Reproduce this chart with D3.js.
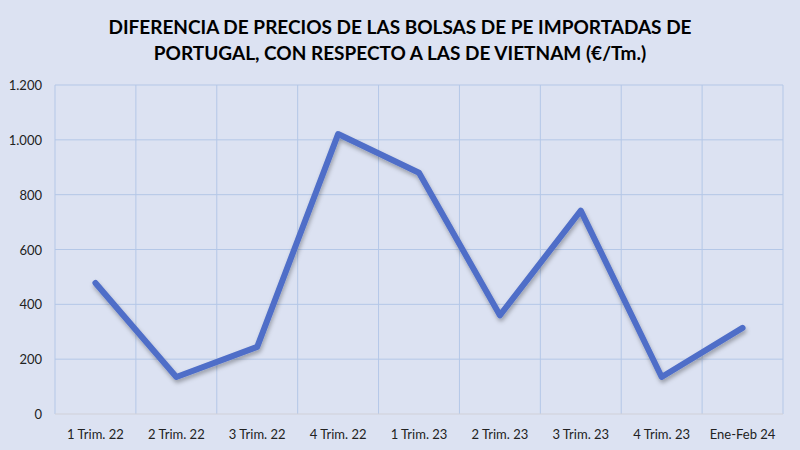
<!DOCTYPE html>
<html>

<head>
  <title>Diferencia de precios</title>
</head>

<body>

  <svg id="svg" width="800" height="450"></svg>

  <script src="https://d3js.org/d3.v7.min.js"></script>
  <script>
    const categories = ['1 Trim. 22', '2 Trim. 22', '3 Trim. 22', '4 Trim. 22', '1 Trim. 23',
      '2 Trim. 23', '3 Trim. 23', '4 Trim. 23', 'Ene-Feb 24']
    const values = [478, 135, 245, 1021, 880, 360, 742, 135, 314]
    const yTicks = [0, 200, 400, 600, 800, 1000, 1200]
    const titleLines = ['DIFERENCIA DE PRECIOS DE LAS BOLSAS DE PE IMPORTADAS DE',
      'PORTUGAL, CON RESPECTO A LAS DE VIETNAM (€/Tm.)']

    const svg = d3.select('#svg')
    const plotLeft = 55, plotRight = 783, plotTop = 85, plotBottom = 414

    svg.append('rect')
      .attr('width', 800).attr('height', 450)
      .attr('fill', '#dce2f2')

    // title
    svg.selectAll('text.title')
      .data(titleLines)
      .join('text')
      .attr('class', 'title')
      .attr('x', 400)
      .attr('y', (d, i) => 34 + i * 26)
      .attr('text-anchor', 'middle')
      .attr('font-family', 'Lato')
      .attr('font-weight', 'bold')
      .attr('font-size', 19)
      .attr('fill', '#000')
      .text(d => d)

    const xscale = d3.scaleBand()
      .domain(categories)
      .range([plotLeft, plotRight])

    const yscale = d3.scaleLinear()
      .domain([0, 1200])
      .range([plotBottom, plotTop])

    // horizontal grid
    svg.append('g')
      .selectAll('line')
      .data(yTicks.slice(1))
      .join('line')
      .attr('x1', plotLeft).attr('x2', plotRight)
      .attr('y1', d => yscale(d)).attr('y2', d => yscale(d))
      .attr('stroke', '#b4c7e7')
      .attr('stroke-width', 1)

    // vertical grid at category edges
    const edges = categories.map(c => xscale(c)).concat([plotRight])
    svg.append('g')
      .selectAll('line')
      .data(edges)
      .join('line')
      .attr('x1', d => d).attr('x2', d => d)
      .attr('y1', plotTop).attr('y2', plotBottom)
      .attr('stroke', '#b4c7e7')
      .attr('stroke-width', 1)

    // baseline
    svg.append('line')
      .attr('x1', plotLeft).attr('x2', plotRight)
      .attr('y1', plotBottom).attr('y2', plotBottom)
      .attr('stroke', '#d0d0d8')
      .attr('stroke-width', 1)

    // y axis labels
    const fmt = d3.formatLocale({ decimal: ',', thousands: '.', grouping: [3], currency: ['', '€'] }).format(',')
    svg.append('g')
      .selectAll('text')
      .data(yTicks)
      .join('text')
      .attr('x', 42)
      .attr('y', d => yscale(d) + 5)
      .attr('text-anchor', 'end')
      .attr('font-family', 'Lato')
      .attr('font-size', 13)
      .attr('fill', '#222')
      .text(d => fmt(d))

    // x axis labels
    svg.append('g')
      .selectAll('text')
      .data(categories)
      .join('text')
      .attr('x', d => xscale(d) + xscale.bandwidth() / 2)
      .attr('y', 439)
      .attr('text-anchor', 'middle')
      .attr('font-family', 'Lato')
      .attr('font-size', 13)
      .attr('fill', '#222')
      .text(d => d)

    // shadow filter
    const defs = svg.append('defs')
    const f = defs.append('filter').attr('id', 'shadow')
      .attr('x', '-10%').attr('y', '-10%').attr('width', '120%').attr('height', '130%')
    f.append('feDropShadow')
      .attr('dx', 1).attr('dy', 3).attr('stdDeviation', 2)
      .attr('flood-color', '#000').attr('flood-opacity', 0.3)

    const linegen = d3.line()
      .x((d, i) => xscale(categories[i]) + xscale.bandwidth() / 2)
      .y(d => yscale(d))

    svg.append('path')
      .attr('d', linegen(values))
      .attr('fill', 'none')
      .attr('stroke', '#4f6ec8')
      .attr('stroke-width', 6)
      .attr('stroke-linejoin', 'round')
      .attr('stroke-linecap', 'round')
      .attr('filter', 'url(#shadow)')
  </script>
</body>

<style>
  body,
  html {
    margin: 0;
    padding: 0;
  }

  #svg {
    display: block;
  }
</style>

</html>
